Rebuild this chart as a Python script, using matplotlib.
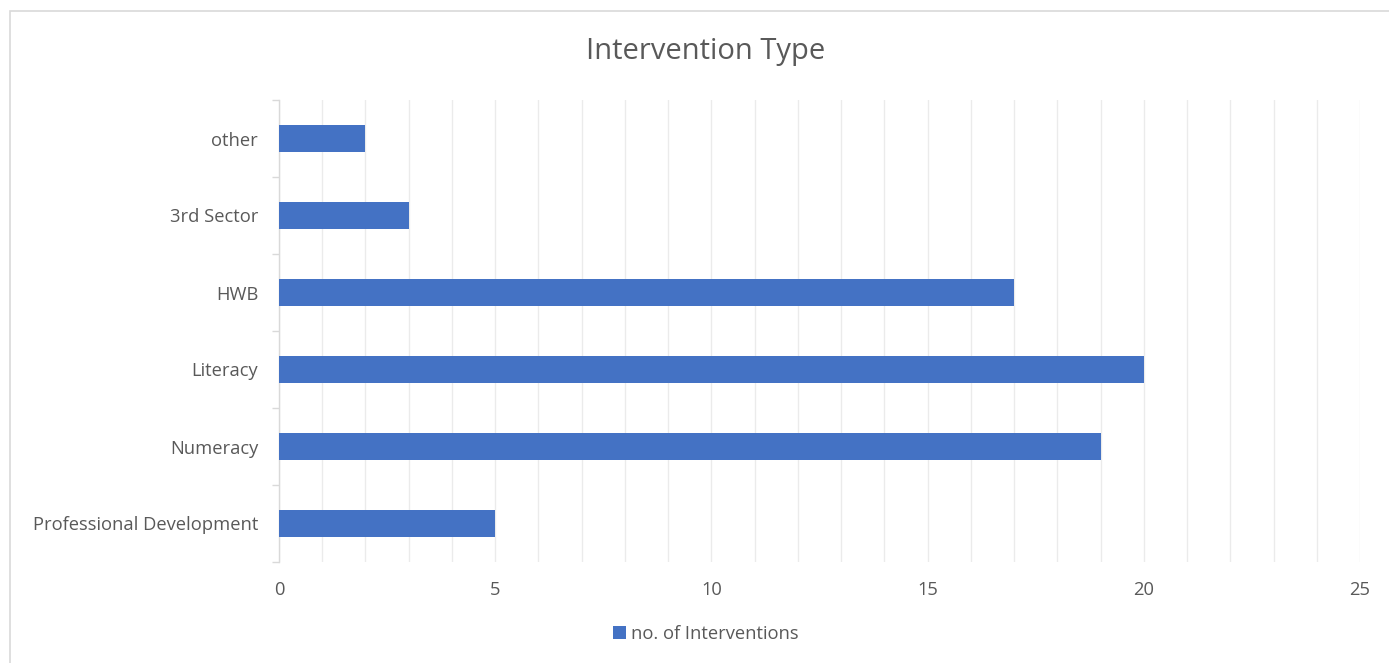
import matplotlib
matplotlib.use("Agg")
import matplotlib.pyplot as plt
from matplotlib.patches import Rectangle
from matplotlib.ticker import MultipleLocator, FixedLocator

categories = ["Professional Development", "Numeracy", "Literacy", "HWB", "3rd Sector", "other"]
values = [5, 19, 20, 17, 3, 2]
series_name = "no. of Interventions"
title = "Intervention Type"

plt.rcParams['font.family'] = ['Open Sans', 'DejaVu Sans']
txt = '#595959'
bar_c = '#4472C4'
grid_c = '#ebebeb'

fig = plt.figure(figsize=(13.89, 6.63), dpi=100)
ax = fig.add_axes([279/1389, 1-562/663, (1360-279)/1389, (562-100)/663])

y = list(range(len(categories)))
ax.barh(y, values, height=0.35, color=bar_c, label=series_name, zorder=3)

ax.set_xlim(0, 25)
ax.set_ylim(-0.5, len(categories)-0.5)
ax.xaxis.set_major_locator(MultipleLocator(5))
ax.xaxis.set_minor_locator(MultipleLocator(1))
ax.grid(axis='x', which='both', color=grid_c, linewidth=1, zorder=0)
ax.set_yticks(y)
ax.set_yticklabels(categories)
ax.yaxis.set_minor_locator(FixedLocator([i - 0.5 for i in range(len(categories)+1)]))
ax.tick_params(axis='y', which='major', length=0, pad=15, labelsize=13.2, labelcolor=txt)
ax.tick_params(axis='y', which='minor', length=5, color='#d9d9d9', width=1)
ax.tick_params(axis='x', which='both', length=0, pad=14, labelsize=13.2, labelcolor=txt)
for s in ['top', 'right', 'bottom']:
    ax.spines[s].set_visible(False)
ax.spines['left'].set_color('#d9d9d9')
ax.spines['left'].set_linewidth(1)

fig.text(706/1389, 1-52/663, title, ha='center', va='center', fontsize=21, color=txt)
fig.legend(loc='center', bbox_to_anchor=(706/1389, 1-634/663), frameon=False,
           fontsize=13.2, labelcolor=txt, handlelength=0.7, handleheight=0.7,
           handletextpad=0.3)

fig.patches.append(Rectangle((10/1389, -0.05), 2.0, 1.05 - 11/663, transform=fig.transFigure,
                             fill=False, edgecolor='#d9d9d9', linewidth=1.2, figure=fig))

fig.savefig("out.png", dpi=100)
